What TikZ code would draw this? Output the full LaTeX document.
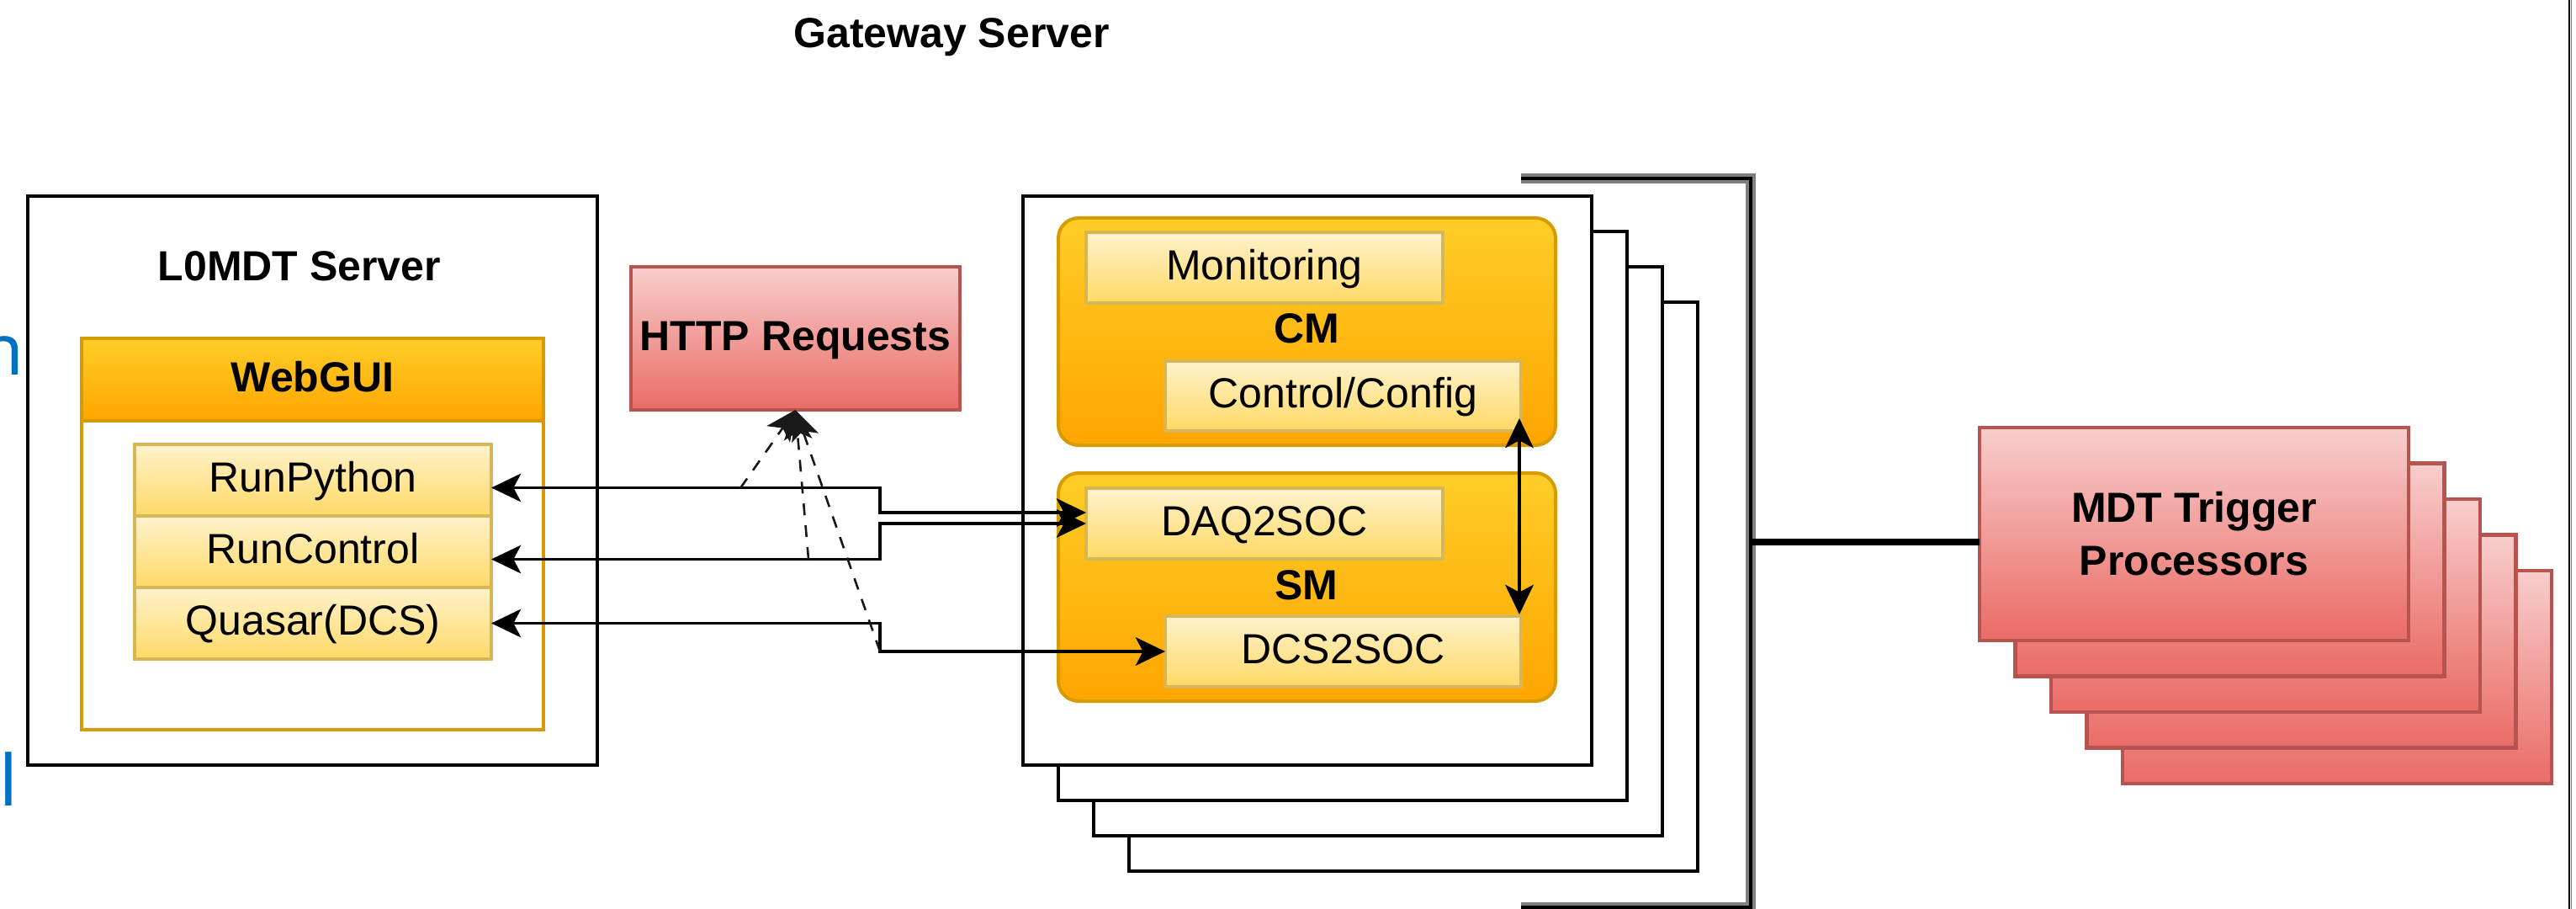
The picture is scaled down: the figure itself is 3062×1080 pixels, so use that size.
\documentclass[tikz,border=0pt]{standalone}
\usepackage{fontspec}
\setmainfont{Liberation Sans}
\newfontfamily\slidefont{Noto Sans}
\usetikzlibrary{calc,arrows.meta}

\definecolor{orTop}{HTML}{FFCD28}
\definecolor{orBot}{HTML}{FFA500}
\definecolor{orLine}{HTML}{D79B00}
\definecolor{ylTop}{HTML}{FFF2CC}
\definecolor{ylBot}{HTML}{FFD966}
\definecolor{ylLine}{HTML}{D6B656}
\definecolor{rdTop}{HTML}{F8CECC}
\definecolor{rdBot}{HTML}{EA6B66}
\definecolor{rdLine}{HTML}{B85450}
\definecolor{slideBlue}{HTML}{0070C0}
\definecolor{rimGray}{HTML}{808080}
\newcommand\dgfont{\fontsize{12.5}{15.75}\selectfont}
% box node given by its corners (x1,y1) (x2,y2) in pixel units
\newcommand\pxbox[7]{%
  \node[#2, minimum width={((#5)-(#3))*0.25pt}, minimum height={((#6)-(#4))*0.25pt}]
    (#1) at ({((#3)+(#5))/2},{((#4)+(#6))/2}) {#7};}

\begin{document}
\begin{tikzpicture}[x=0.25pt,y=-0.25pt,
  >={Stealth[length=8.8pt,width=8.4pt,inset=2.2pt]},
  box/.style={inner sep=0pt, outer sep=0pt, text height=9pt, text depth=2pt,
              font=\dgfont, align=center},
  plainbox/.style={box, draw=black, line width=1pt, fill=white},
  yellowbox/.style={box, draw=ylLine, line width=0.8pt, top color=ylTop, bottom color=ylBot},
  orangebox/.style={box, draw=orLine, line width=1pt, top color=orTop, bottom color=orBot},
  redbox/.style={box, draw=rdLine, line width=1.2pt, top color=rdTop, bottom color=rdBot},
  title/.style={inner sep=0pt, outer sep=0pt, font=\dgfont\bfseries, anchor=base},
  conn/.style={line width=0.85pt, black},
  webconn/.style={line width=0.65pt, dash pattern=on 3.5pt off 3pt, black!90},
  slidetext/.style={inner sep=0pt, text=slideBlue, font=\slidefont\fontsize{21}{25}\selectfont},
]
\useasboundingbox (0,0) rectangle (3062,1080);
\fill[white] (0,0) rectangle (3062,1080);

% cut-off words at the left edge
\begin{scope}
  \clip (0,0) rectangle (3062,1080);
  \node[slidetext, anchor=base east] (fragA) at (29,445) {n};
  \node[slidetext, anchor=base west] (fragB) at (-1,957) {l};
\end{scope}

% frame line at the right edge
\coordinate (rimT) at (3054,0);
\coordinate (rimB) at (3054,1080);
\draw[black, line width=0.5pt] (rimT) -- (rimB);
\draw[rimGray, line width=0.3pt] ([xshift=0.6pt]rimT) -- ([xshift=0.6pt]rimB);

\node[title] (gwtitle) at (1131,57) {Gateway Server};

% L0MDT server with the WebGUI
\pxbox{l0}{plainbox}{33}{233}{710}{909}{}
\node[title] (l0title) at (356,333) {L0MDT Server};
\pxbox{wg}{box, draw=orLine, line width=1pt, fill=white}{97}{402}{646}{867}{}
\pxbox{wghead}{orangebox, font=\dgfont\bfseries}{97}{402}{646}{500}{WebGUI}
\pxbox{rp}{yellowbox}{160}{528}{584}{613}{RunPython}
\pxbox{rc}{yellowbox}{160}{613}{584}{698}{RunControl}
\pxbox{qs}{yellowbox}{160}{698}{584}{783}{Quasar(DCS)}

\pxbox{http}{redbox, font=\dgfont\bfseries}{750}{317}{1141}{487}{HTTP Requests}

% stack of gateway servers
\foreach \k in {3,2,1}{
  \pxbox{gw\k}{plainbox}{1216+42*\k}{233+42*\k}{1892+42*\k}{909+42*\k}{}
}
\pxbox{gw0}{plainbox}{1216}{233}{1892}{909}{}

\pxbox{cm}{orangebox, rounded corners=6pt}{1258}{259}{1849}{529}{}
\pxbox{sm}{orangebox, rounded corners=6pt}{1258}{562}{1849}{833}{}
\node[title] (cmlbl) at (1553,407) {CM};
\node[title] (smlbl) at (1553,712) {SM};
\pxbox{mon}{yellowbox}{1291}{276}{1715}{360}{Monitoring}
\pxbox{cc}{yellowbox}{1385}{429}{1808}{512}{Control/Config}
\pxbox{daq}{yellowbox}{1291}{580}{1715}{664}{DAQ2SOC}
\pxbox{dcs}{yellowbox}{1385}{732}{1808}{816}{DCS2SOC}

% bracket grouping the gateway servers
\coordinate (brTL) at (1808,212);
\coordinate (brTR) at (2081,212);
\coordinate (brBR) at (2081,1078);
\coordinate (brBL) at (1808,1078);
\coordinate (brMid) at (2081,644);
\draw[rimGray, line width=3pt] (brTL) -- (brTR) -- (brBR) -- (brBL);
\draw[black, line width=1pt] (brTL) -- (brTR) -- (brBR) -- (brBL);

% stack of trigger processors
\foreach \k in {4,3,2,1}{
  \pxbox{mdt\k}{redbox}{2353+42.5*\k}{508+42.5*\k}{2863+42.5*\k}{761+42.5*\k}{}
}
\pxbox{mdt0}{redbox, font=\dgfont\bfseries, text height={}, text depth={}}{2353}{508}{2863}{761}{MDT Trigger\\Processors}

\draw[black, line width=2pt] (brMid) -- (brMid -| mdt0.west);

% links between the WebGUI and the SoC services
\coordinate (bendx) at (1046,0);
\coordinate (rpE) at ($(rp.east)+(0,9)$);
\coordinate (rcE) at ($(rc.east)+(0,9)$);
\coordinate (daqA) at ($(daq.west)+(0,-13)$);
\draw[conn,<->] (rpE) -- (rpE -| bendx) |- (daqA);
\draw[conn,<->] (rcE) -- (rcE -| bendx) |- (daq.west);
\draw[conn,<->] (qs.east) -- (qs.east -| bendx) |- (dcs.west);

% CM <-> SM
\coordinate (ccA) at ($(cc.south east)+(-2,-15)$);
\coordinate (dcsA) at ($(dcs.north east)+(-2,-2)$);
\draw[conn,<->] (ccA) -- (dcsA);

% HTTP requests carried by the links
\coordinate (hp1) at (880,580);
\coordinate (hp2) at (961,664);
\coordinate (hp3) at (1046,774);
\draw[webconn,->] (hp1) -- (http.south);
\draw[webconn,->] (hp2) -- (http.south);
\draw[webconn,->] (hp3) -- (http.south);
\end{tikzpicture}
\end{document}
